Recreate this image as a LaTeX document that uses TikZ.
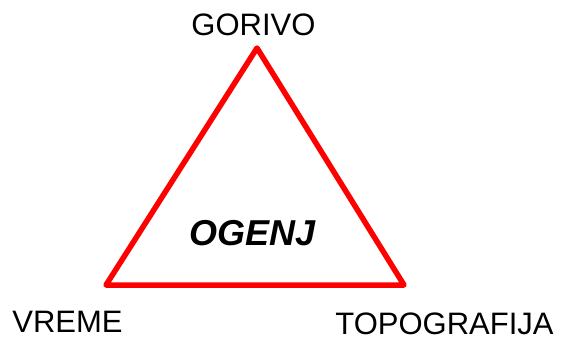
\documentclass[tikz,border=0pt]{standalone}
\usepackage{fontspec}
\setmainfont{Liberation Sans}
\usepackage{tikz}
\usetikzlibrary{positioning}

\begin{document}
\begin{tikzpicture}[x=1bp, y=-1bp,
  side/.style={draw=red, line width=5.5bp, line join=round},
  corner/.style={anchor=base, inner sep=0pt, font=\fontsize{31bp}{31bp}\selectfont},
  centre/.style={anchor=base, inner sep=0pt, font=\fontsize{36bp}{36bp}\selectfont\bfseries\itshape}]
  \useasboundingbox (0,0) rectangle (563,340);
  % Vertices
  \coordinate (top) at (257,48);
  \coordinate (left) at (106,285);
  \coordinate (right) at (404,285);
  % Triangle
  \draw[side] (top) -- (left) -- (right) -- cycle;
  % Labels
  \node[corner] (gorivo) at (253.5,35) {GORIVO};
  \node[corner] (vreme) at (67.5,332) {VREME};
  \node[corner] (topo) at (444.5,334) {TOPOGRAFIJA};
  \node[centre] (ogenj) at (252.5,245) {OGENJ};
\end{tikzpicture}
\end{document}
